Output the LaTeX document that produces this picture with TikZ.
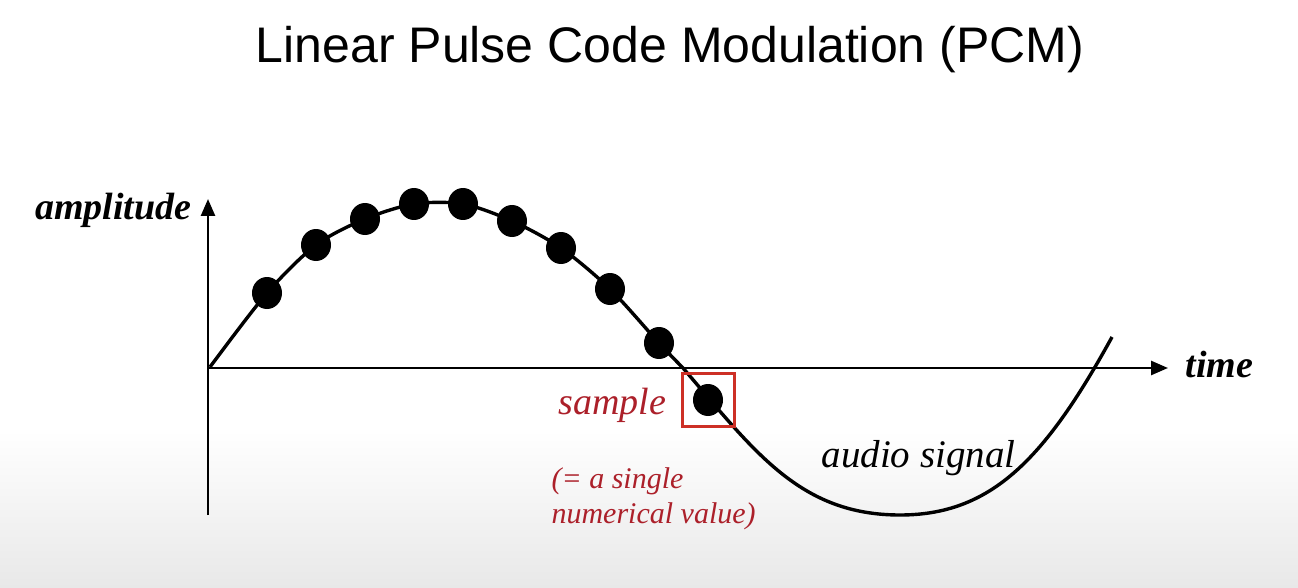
\documentclass[tikz,border=0pt]{standalone}
\usepackage{fontspec}
\setmainfont{Liberation Serif}
\newfontfamily\titlefont{Liberation Sans}
\usetikzlibrary{arrows.meta, shapes.geometric}

\definecolor{samplered}{RGB}{172,32,42}
\definecolor{boxred}{RGB}{205,48,38}

\tikzset{
	dot/.style={ellipse, fill=black, inner sep=0pt, minimum width=30pt, minimum height=32pt},
	axis/.style={line width=2.6pt, -{Triangle[length=17pt,width=14pt]}},
	signal/.style={line width=3.4pt},
	axislabel/.style={font=\fontsize{38}{44}\selectfont\bfseries\itshape},
	curvelabel/.style={font=\fontsize{39}{44}\selectfont\itshape},
}

\begin{document}
\begin{tikzpicture}[x=1pt, y=-1pt]

	% background
	\fill[white] (0,0) rectangle (1298,430);
	\shade[top color=white, bottom color=black!9] (0,430) rectangle (1298,588);
	\useasboundingbox (0,0) rectangle (1298,588);

	\node[anchor=base, font=\fontsize{50}{58}\selectfont\titlefont] (title) at (670,63) {Linear Pulse Code Modulation (PCM)};

	% axes
	\coordinate (O) at (208,368);
	\coordinate (ybot) at (208,515);
	\coordinate (ytop) at (208,199);
	\coordinate (xend) at (1168,368);
	\draw[axis] (ybot) -- (ytop);
	\draw[axis] (O) -- (xend);

	\node[axislabel, anchor=base east] (amp) at (195,219) {amplitude};
	\node[axislabel, anchor=base west] (time) at (1182,377) {time};

	% samples
	\foreach \x/\y [count=\i] in {267/293, 316/245, 365/219, 414/204, 463/204,
		512/221, 561/248, 610/289, 659/343, 708/400}
		\coordinate (s\i) at (\x,\y);

	\draw[signal] plot[smooth] coordinates {(210,367) (s1) (s2) (s3) (s4) (s5) (s6) (s7) (s8) (s9) (683,368)}
		.. controls (755,452) and (800,515) .. (900,515)
		.. controls (990,515) and (1044,461) .. (1112,337);

	\foreach \i in {1,...,10}
		\node[dot] (d\i) at (s\i) {};

	\node[draw=boxred, line width=3pt, minimum width=52pt, minimum height=53pt, inner sep=0pt] (box) at (s10) {};

	\node[text=samplered, anchor=base west, font=\fontsize{38}{44}\selectfont\itshape] (sample) at (555,414) {sample};
	\node[text=samplered, anchor=base west, align=left, font=\fontsize{30}{35}\selectfont\itshape] (note) at (548,523) {(= a single\\numerical value)};
	\node[curvelabel, anchor=base west] (audio) at (818,467) {audio signal};

\end{tikzpicture}
\end{document}
